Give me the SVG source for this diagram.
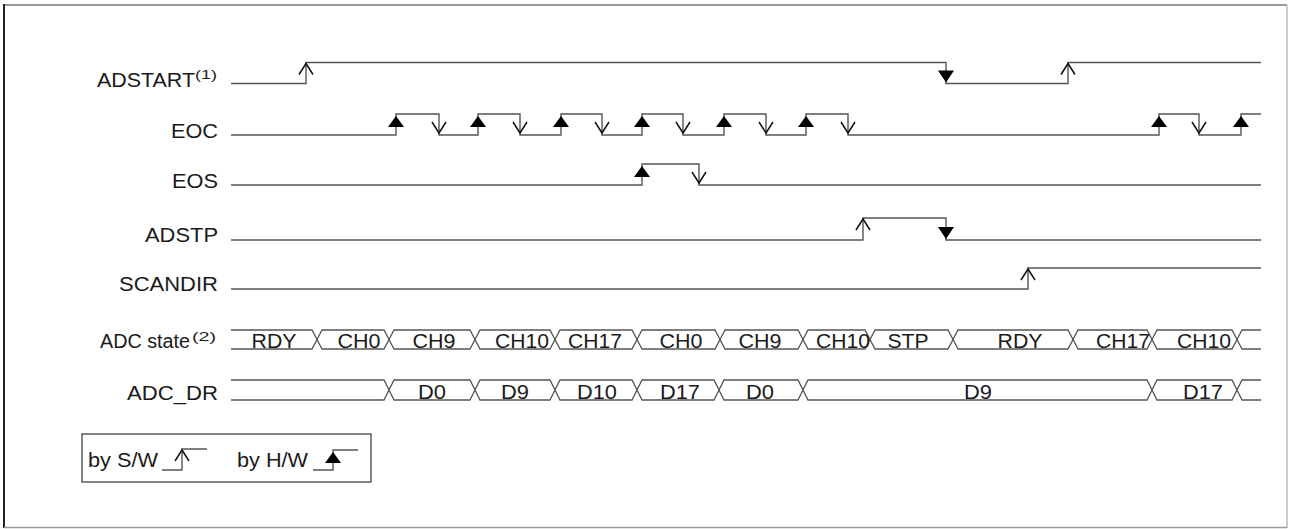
<svg xmlns="http://www.w3.org/2000/svg" xmlns:xlink="http://www.w3.org/1999/xlink" width="1291" height="529" viewBox="0 0 1291 529">
<style>
.t{font-family:"Liberation Sans",Arial,sans-serif;font-size:20px;fill:#1a1a1a}
.sup{font-family:"Liberation Sans",Arial,sans-serif;font-size:13.5px;fill:#1a1a1a}
.b{font-family:"Liberation Sans",Arial,sans-serif;font-size:20px;fill:#1a1a1a;text-anchor:middle}
.w{fill:none;stroke:#555;stroke-width:1.4}
.bus{fill:none;stroke:#555;stroke-width:1.3}
.arr{fill:none;stroke:#111;stroke-width:1.5}
.tri{fill:#000}
</style>
<defs>
<path id="swUp" class="arr" d="M-7,12 L0,1 L7,12"/>
<path id="swDown" class="arr" d="M-7,-13 L0,-2 L7,-13"/>
<path id="hwUp" class="tri" d="M0,2 L8,13 L-8,13 Z"/>
<path id="hwDown" class="tri" d="M-8,-13 L8,-13 L0,-1 Z"/>
</defs>
<rect x="0" y="0" width="1291" height="529" fill="#fff"/>
<g id="frame">
<line x1="4" y1="5" x2="1287" y2="5" stroke="#777" stroke-width="1.5"/>
<line x1="4" y1="4" x2="4" y2="528" stroke="#222" stroke-width="2"/>
<line x1="1287" y1="5" x2="1287" y2="528" stroke="#bbb" stroke-width="1.5"/>
<line x1="4" y1="527.5" x2="1287" y2="527.5" stroke="#999" stroke-width="1.5"/>
</g>
<g id="adstart">
<text class="t" x="97" y="86.5" textLength="98" lengthAdjust="spacingAndGlyphs">ADSTART</text>
<text class="sup" x="195" y="79" textLength="22" lengthAdjust="spacingAndGlyphs">(1)</text>
</g>
<g id="eoc"><text class="t" x="171" y="137.5" textLength="47" lengthAdjust="spacingAndGlyphs">EOC</text></g>
<g id="eos"><text class="t" x="172" y="187.5" textLength="46" lengthAdjust="spacingAndGlyphs">EOS</text></g>
<g id="adstp"><text class="t" x="145" y="242" textLength="73" lengthAdjust="spacingAndGlyphs">ADSTP</text></g>
<g id="scandir"><text class="t" x="119" y="290.5" textLength="99" lengthAdjust="spacingAndGlyphs">SCANDIR</text></g>
<g id="adcstate">
<text class="t" x="100" y="348" textLength="90" lengthAdjust="spacingAndGlyphs">ADC state</text>
<text class="sup" x="192" y="341" textLength="24" lengthAdjust="spacingAndGlyphs">(2)</text>
<path class="bus" d="M231,330 H312 L317,339.5 L312,349 H231"/>
<path class="bus" d="M322,330 H384 L389,339.5 L384,349 H322 L317,339.5 Z"/>
<path class="bus" d="M394,330 H470 L475,339.5 L470,349 H394 L389,339.5 Z"/>
<path class="bus" d="M480,330 H550 L555,339.5 L550,349 H480 L475,339.5 Z"/>
<path class="bus" d="M560,330 H632 L637,339.5 L632,349 H560 L555,339.5 Z"/>
<path class="bus" d="M642,330 H715 L720,339.5 L715,349 H642 L637,339.5 Z"/>
<path class="bus" d="M725,330 H798 L803,339.5 L798,349 H725 L720,339.5 Z"/>
<path class="bus" d="M808,330 H865 L870,339.5 L865,349 H808 L803,339.5 Z"/>
<path class="bus" d="M875,330 H948 L953,339.5 L948,349 H875 L870,339.5 Z"/>
<path class="bus" d="M958,330 H1068 L1073,339.5 L1068,349 H958 L953,339.5 Z"/>
<path class="bus" d="M1078,330 H1147 L1152,339.5 L1147,349 H1078 L1073,339.5 Z"/>
<path class="bus" d="M1157,330 H1232 L1237,339.5 L1232,349 H1157 L1152,339.5 Z"/>
<path class="bus" d="M1261,330 H1242 L1237,339.5 L1242,349 H1261"/>
<text class="b" x="274" y="347.5" textLength="45" lengthAdjust="spacingAndGlyphs">RDY</text>
<text class="b" x="359" y="347.5" textLength="43" lengthAdjust="spacingAndGlyphs">CH0</text>
<text class="b" x="434" y="347.5" textLength="43" lengthAdjust="spacingAndGlyphs">CH9</text>
<text class="b" x="522" y="347.5" textLength="54" lengthAdjust="spacingAndGlyphs">CH10</text>
<text class="b" x="595" y="347.5" textLength="54" lengthAdjust="spacingAndGlyphs">CH17</text>
<text class="b" x="681" y="347.5" textLength="43" lengthAdjust="spacingAndGlyphs">CH0</text>
<text class="b" x="760" y="347.5" textLength="43" lengthAdjust="spacingAndGlyphs">CH9</text>
<text class="b" x="843" y="347.5" textLength="54" lengthAdjust="spacingAndGlyphs">CH10</text>
<text class="b" x="908" y="347.5" textLength="41" lengthAdjust="spacingAndGlyphs">STP</text>
<text class="b" x="1020" y="347.5" textLength="45" lengthAdjust="spacingAndGlyphs">RDY</text>
<text class="b" x="1123" y="347.5" textLength="54" lengthAdjust="spacingAndGlyphs">CH17</text>
<text class="b" x="1204" y="347.5" textLength="54" lengthAdjust="spacingAndGlyphs">CH10</text>
</g>
<g id="adcdr">
<text class="t" x="127" y="399.5" textLength="91" lengthAdjust="spacingAndGlyphs">ADC_DR</text>
<path class="bus" d="M231,380 H384 L389,390 L384,400 H231"/>
<path class="bus" d="M394,380 H470 L475,390 L470,400 H394 L389,390 Z"/>
<path class="bus" d="M480,380 H550 L555,390 L550,400 H480 L475,390 Z"/>
<path class="bus" d="M560,380 H632 L637,390 L632,400 H560 L555,390 Z"/>
<path class="bus" d="M642,380 H714 L719,390 L714,400 H642 L637,390 Z"/>
<path class="bus" d="M724,380 H798 L803,390 L798,400 H724 L719,390 Z"/>
<path class="bus" d="M808,380 H1147 L1152,390 L1147,400 H808 L803,390 Z"/>
<path class="bus" d="M1157,380 H1232 L1237,390 L1232,400 H1157 L1152,390 Z"/>
<path class="bus" d="M1261,380 H1242 L1237,390 L1242,400 H1261"/>
<text class="b" x="432" y="398.5" textLength="28" lengthAdjust="spacingAndGlyphs">D0</text>
<text class="b" x="515" y="398.5" textLength="28" lengthAdjust="spacingAndGlyphs">D9</text>
<text class="b" x="597" y="398.5" textLength="40" lengthAdjust="spacingAndGlyphs">D10</text>
<text class="b" x="680" y="398.5" textLength="40" lengthAdjust="spacingAndGlyphs">D17</text>
<text class="b" x="760" y="398.5" textLength="28" lengthAdjust="spacingAndGlyphs">D0</text>
<text class="b" x="978" y="398.5" textLength="28" lengthAdjust="spacingAndGlyphs">D9</text>
<text class="b" x="1203" y="398.5" textLength="40" lengthAdjust="spacingAndGlyphs">D17</text>
</g>
<g id="connectors">
<path class="w" d="M231,83.5 H306 V62.5 H946 V83.5 H1068 V62.5 H1261"/>
<path class="w" d="M231,135 H396 V114 H439 V135 H478 V114 H520 V135 H561 V114 H602 V135 H642 V114 H683 V135 H724 V114 H766 V135 H806 V114 H848 V135 H1159 V114 H1199 V135 H1241 V114 H1261"/>
<path class="w" d="M231,185 H642 V164 H699 V185 H1261"/>
<path class="w" d="M231,240 H863 V218 H946 V240 H1261"/>
<path class="w" d="M231,289 H1028 V268 H1261"/>
<use xlink:href="#swUp" x="306" y="62.5"/>
<use xlink:href="#hwDown" x="946" y="83.5"/>
<use xlink:href="#swUp" x="1068" y="62.5"/>
<use xlink:href="#hwUp" x="396" y="114"/>
<use xlink:href="#hwUp" x="478" y="114"/>
<use xlink:href="#hwUp" x="561" y="114"/>
<use xlink:href="#hwUp" x="642" y="114"/>
<use xlink:href="#hwUp" x="724" y="114"/>
<use xlink:href="#hwUp" x="806" y="114"/>
<use xlink:href="#hwUp" x="1159" y="114"/>
<use xlink:href="#hwUp" x="1241" y="114"/>
<use xlink:href="#swDown" x="439" y="135"/>
<use xlink:href="#swDown" x="520" y="135"/>
<use xlink:href="#swDown" x="602" y="135"/>
<use xlink:href="#swDown" x="683" y="135"/>
<use xlink:href="#swDown" x="766" y="135"/>
<use xlink:href="#swDown" x="848" y="135"/>
<use xlink:href="#swDown" x="1199" y="135"/>
<use xlink:href="#hwUp" x="642" y="164"/>
<use xlink:href="#swDown" x="699" y="185"/>
<use xlink:href="#swUp" x="863" y="218"/>
<use xlink:href="#hwDown" x="946" y="240"/>
<use xlink:href="#swUp" x="1028" y="268"/>
</g>
<g id="legend">
<rect x="82" y="434" width="289" height="48" fill="none" stroke="#444" stroke-width="1.3"/>
<text class="t" x="88" y="467" textLength="70" lengthAdjust="spacingAndGlyphs">by S/W</text>
<path class="w" d="M162,470 H182 V449 H207"/>
<use xlink:href="#swUp" x="182" y="449"/>
<text class="t" x="237" y="467" textLength="71" lengthAdjust="spacingAndGlyphs">by H/W</text>
<path class="w" d="M313,470 H333 V450 H358"/>
<use xlink:href="#hwUp" x="333" y="450"/>
</g>
</svg>
